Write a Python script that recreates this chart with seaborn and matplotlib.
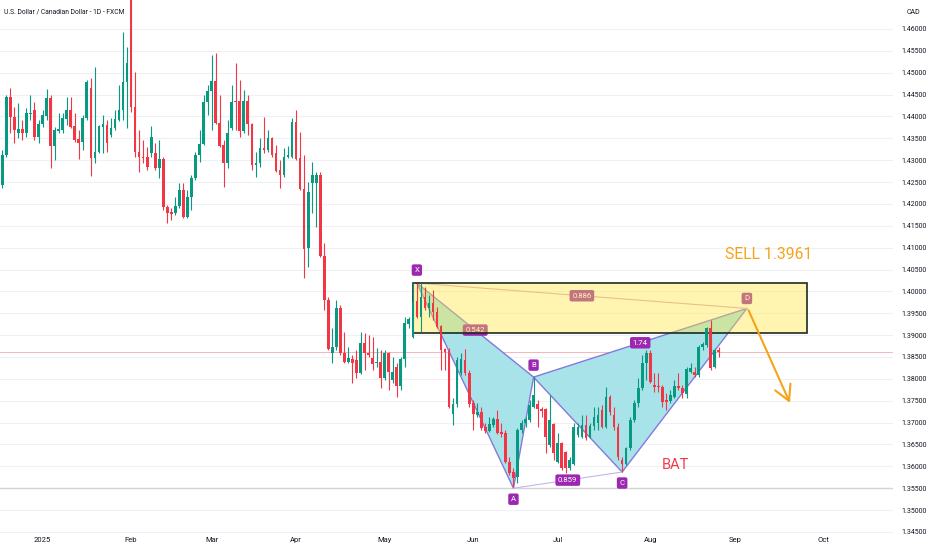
import numpy as np
import pandas as pd
import seaborn as sns
import matplotlib.pyplot as plt
from matplotlib.patches import Rectangle

# daily USD/CAD candles, 18 Dec 2024 .. 26 Aug 2025 (no bar on 1 Jan)
opens = [1.4243, 1.4312, 1.4444, 1.4399, 1.4362, 1.4371, 1.4362, 1.4405, 1.4415, 1.4353,
         1.4383, 1.4401, 1.4442, 1.4332, 1.4367, 1.4369, 1.4394, 1.4415, 1.4378, 1.4348,
         1.4341, 1.4396, 1.4465, 1.4305, 1.4319, 1.4376, 1.4380, 1.4357, 1.4373, 1.4392,
         1.4415, 1.4479, 1.4780, 1.4421, 1.4319, 1.4307, 1.4307, 1.4316, 1.4316, 1.4282,
         1.4303, 1.4193, 1.4181, 1.4179, 1.4195, 1.4232, 1.4170, 1.4216, 1.4259, 1.4312,
         1.4337, 1.4433, 1.4458, 1.4481, 1.4385, 1.4335, 1.4293, 1.4373, 1.4435, 1.4435,
         1.4367, 1.4435, 1.4383, 1.4289, 1.4293, 1.4328, 1.4323, 1.4350, 1.4316, 1.4277,
         1.4266, 1.4307, 1.4307, 1.4387, 1.4305, 1.4234, 1.4099, 1.4248, 1.4248, 1.4266,
         1.4081, 1.3980, 1.3859, 1.3873, 1.3962, 1.3859, 1.3838, 1.3845, 1.3843, 1.3813,
         1.3882, 1.3859, 1.3848, 1.3836, 1.3838, 1.3802, 1.3859, 1.3797, 1.3827, 1.3784,
         1.3845, 1.3925, 1.3896, 1.3978, 1.3941, 1.3987, 1.3962, 1.3973, 1.3953, 1.3921,
         1.3868, 1.3864, 1.3720, 1.3742, 1.3813, 1.3843, 1.3813, 1.3745, 1.3717, 1.3724,
         1.3690, 1.3681, 1.3694, 1.3708, 1.3678, 1.3676, 1.3610, 1.3587, 1.3576, 1.3683,
         1.3699, 1.3706, 1.3736, 1.3742, 1.3731, 1.3731, 1.3649, 1.3697, 1.3610, 1.3653,
         1.3633, 1.3596, 1.3605, 1.3672, 1.3667, 1.3694, 1.3667, 1.3692, 1.3699, 1.3729,
         1.3690, 1.3758, 1.3717, 1.3690, 1.3615, 1.3605, 1.3642, 1.3706, 1.3745, 1.3779,
         1.3836, 1.3859, 1.3786, 1.3784, 1.3781, 1.3752, 1.3749, 1.3758, 1.3784, 1.3779,
         1.3765, 1.3816, 1.3816, 1.3809, 1.3873, 1.3877, 1.3916, 1.3827, 1.3866]
highs = [1.4323, 1.4449, 1.4465, 1.4421, 1.4431, 1.4392, 1.4419, 1.4449, 1.4433, 1.4392,
         1.4415, 1.4463, 1.4449, 1.4376, 1.4408, 1.4408, 1.4444, 1.4444, 1.4408, 1.4369,
         1.4403, 1.4483, 1.4488, 1.4513, 1.4380, 1.4403, 1.4392, 1.4396, 1.4415, 1.4472,
         1.4593, 1.4559, 1.4793, 1.4501, 1.4369, 1.4346, 1.4330, 1.4378, 1.4339, 1.4346,
         1.4307, 1.4197, 1.4191, 1.4216, 1.4248, 1.4248, 1.4232, 1.4266, 1.4319, 1.4369,
         1.4449, 1.4472, 1.4540, 1.4545, 1.4449, 1.4346, 1.4392, 1.4472, 1.4522, 1.4483,
         1.4460, 1.4449, 1.4385, 1.4319, 1.4350, 1.4399, 1.4369, 1.4353, 1.4335, 1.4300,
         1.4328, 1.4332, 1.4396, 1.4415, 1.4364, 1.4312, 1.4250, 1.4296, 1.4273, 1.4273,
         1.4111, 1.3987, 1.3916, 1.3980, 1.3969, 1.3907, 1.3873, 1.3854, 1.3866, 1.3907,
         1.3905, 1.3900, 1.3896, 1.3870, 1.3866, 1.3866, 1.3861, 1.3850, 1.3836, 1.3850,
         1.3941, 1.3941, 1.4019, 1.4019, 1.4019, 1.4010, 1.3992, 1.4003, 1.3964, 1.3923,
         1.3870, 1.3870, 1.3756, 1.3850, 1.3859, 1.3868, 1.3820, 1.3752, 1.3745, 1.3736,
         1.3699, 1.3713, 1.3713, 1.3729, 1.3699, 1.3683, 1.3621, 1.3596, 1.3688, 1.3706,
         1.3713, 1.3752, 1.3804, 1.3752, 1.3736, 1.3733, 1.3763, 1.3699, 1.3676, 1.3656,
         1.3635, 1.3621, 1.3699, 1.3699, 1.3717, 1.3717, 1.3699, 1.3736, 1.3736, 1.3740,
         1.3781, 1.3763, 1.3736, 1.3699, 1.3621, 1.3644, 1.3713, 1.3752, 1.3802, 1.3854,
         1.3866, 1.3866, 1.3813, 1.3813, 1.3786, 1.3768, 1.3775, 1.3797, 1.3813, 1.3786,
         1.3827, 1.3836, 1.3827, 1.3877, 1.3884, 1.3918, 1.3935, 1.3870, 1.3873]
lows = [1.4236, 1.4307, 1.4362, 1.4339, 1.4350, 1.4346, 1.4353, 1.4392, 1.4346, 1.4339,
        1.4376, 1.4392, 1.4282, 1.4300, 1.4362, 1.4362, 1.4380, 1.4373, 1.4341, 1.4303,
        1.4323, 1.4392, 1.4264, 1.4293, 1.4316, 1.4316, 1.4319, 1.4353, 1.4369, 1.4389,
        1.4392, 1.4373, 1.4410, 1.4307, 1.4273, 1.4293, 1.4277, 1.4307, 1.4277, 1.4259,
        1.4186, 1.4156, 1.4163, 1.4174, 1.4191, 1.4168, 1.4168, 1.4186, 1.4255, 1.4296,
        1.4335, 1.4403, 1.4369, 1.4383, 1.4330, 1.4239, 1.4282, 1.4369, 1.4369, 1.4353,
        1.4362, 1.4357, 1.4277, 1.4261, 1.4284, 1.4316, 1.4319, 1.4307, 1.4273, 1.4236,
        1.4261, 1.4305, 1.4305, 1.4300, 1.4232, 1.4030, 1.4056, 1.4179, 1.4147, 1.4079,
        1.3957, 1.3866, 1.3836, 1.3866, 1.3854, 1.3836, 1.3836, 1.3790, 1.3802, 1.3811,
        1.3820, 1.3850, 1.3820, 1.3827, 1.3779, 1.3797, 1.3775, 1.3790, 1.3758, 1.3775,
        1.3827, 1.3916, 1.3893, 1.3939, 1.3907, 1.3957, 1.3941, 1.3935, 1.3916, 1.3820,
        1.3820, 1.3733, 1.3694, 1.3736, 1.3809, 1.3809, 1.3736, 1.3683, 1.3713, 1.3683,
        1.3676, 1.3678, 1.3690, 1.3674, 1.3667, 1.3608, 1.3580, 1.3553, 1.3562, 1.3676,
        1.3690, 1.3701, 1.3733, 1.3690, 1.3713, 1.3630, 1.3644, 1.3615, 1.3608, 1.3592,
        1.3585, 1.3592, 1.3603, 1.3667, 1.3665, 1.3660, 1.3665, 1.3683, 1.3683, 1.3688,
        1.3688, 1.3717, 1.3683, 1.3615, 1.3587, 1.3603, 1.3637, 1.3701, 1.3736, 1.3775,
        1.3797, 1.3790, 1.3770, 1.3770, 1.3736, 1.3729, 1.3745, 1.3756, 1.3775, 1.3756,
        1.3756, 1.3813, 1.3804, 1.3804, 1.3866, 1.3873, 1.3820, 1.3825, 1.3850]
closes = [1.4312, 1.4444, 1.4399, 1.4369, 1.4371, 1.4362, 1.4408, 1.4408, 1.4353, 1.4383,
          1.4403, 1.4442, 1.4332, 1.4369, 1.4371, 1.4396, 1.4415, 1.4376, 1.4346, 1.4339,
          1.4396, 1.4479, 1.4305, 1.4319, 1.4378, 1.4383, 1.4339, 1.4373, 1.4394, 1.4415,
          1.4479, 1.4522, 1.4421, 1.4319, 1.4307, 1.4305, 1.4284, 1.4353, 1.4282, 1.4303,
          1.4193, 1.4179, 1.4177, 1.4195, 1.4232, 1.4170, 1.4216, 1.4259, 1.4312, 1.4337,
          1.4433, 1.4458, 1.4481, 1.4385, 1.4332, 1.4293, 1.4362, 1.4433, 1.4433, 1.4367,
          1.4435, 1.4383, 1.4289, 1.4293, 1.4328, 1.4323, 1.4350, 1.4312, 1.4275, 1.4266,
          1.4307, 1.4312, 1.4387, 1.4303, 1.4234, 1.4097, 1.4227, 1.4266, 1.4266, 1.4081,
          1.3980, 1.3868, 1.3873, 1.3962, 1.3859, 1.3838, 1.3848, 1.3836, 1.3813, 1.3882,
          1.3859, 1.3854, 1.3834, 1.3838, 1.3802, 1.3859, 1.3816, 1.3816, 1.3784, 1.3845,
          1.3928, 1.3937, 1.3976, 1.3941, 1.3987, 1.3962, 1.3973, 1.3953, 1.3918, 1.3866,
          1.3861, 1.3736, 1.3742, 1.3843, 1.3845, 1.3813, 1.3742, 1.3720, 1.3724, 1.3688,
          1.3681, 1.3697, 1.3708, 1.3676, 1.3674, 1.3610, 1.3585, 1.3573, 1.3683, 1.3699,
          1.3708, 1.3740, 1.3763, 1.3731, 1.3726, 1.3667, 1.3706, 1.3630, 1.3653, 1.3596,
          1.3596, 1.3615, 1.3690, 1.3690, 1.3694, 1.3665, 1.3692, 1.3713, 1.3717, 1.3690,
          1.3758, 1.3724, 1.3690, 1.3621, 1.3605, 1.3642, 1.3706, 1.3745, 1.3779, 1.3836,
          1.3859, 1.3793, 1.3781, 1.3781, 1.3747, 1.3747, 1.3763, 1.3784, 1.3779, 1.3768,
          1.3822, 1.3825, 1.3809, 1.3873, 1.3880, 1.3916, 1.3825, 1.3866, 1.3861]

month_labels = ['2025', 'Feb', 'Mar', 'Apr', 'May', 'Jun', 'Jul', 'Aug', 'Sep', 'Oct']

# harmonic BAT pattern (bar index, price) and ratio labels
pattern_names = ['X', 'A', 'B', 'C', 'D']
pattern_bar = [103, 127, 132, 154, 185]
pattern_price = [1.4019, 1.3550, 1.3804, 1.3587, 1.3961]
ratio_xb, ratio_ac, ratio_bd, ratio_xd = '0.542', '0.859', '1.74', '0.886'
zone_top, zone_bottom = 1.4019, 1.3906
zone_bars = (102, 200)
support_level = 1.3550
sell_text = 'SELL 1.3961'

GREEN = '#089981'
RED = '#f23645'
ORANGE = '#f5a31a'
PURPLE = '#9c27b0'

sns.set_theme(style='white')
plt.rcParams['font.family'] = ['Roboto', 'DejaVu Sans']

df = pd.DataFrame({'open': opens, 'high': highs, 'low': lows, 'close': closes})
dates = pd.bdate_range('2024-12-18', '2025-10-31')
dates = dates[dates != pd.Timestamp('2025-01-01')]
df['date'] = dates[:len(df)]
df['i'] = np.arange(len(df))
up = df['close'] >= df['open']
df['color'] = np.where(up, GREEN, RED)

fig = plt.figure(figsize=(9.32, 5.5), dpi=100)
ax = fig.add_axes([0, 17 / 550, 893 / 932, 533 / 550])

# candles
ax.vlines(df['i'], df['low'], df['high'], colors=df['color'], lw=0.8, zorder=4)
ax.bar(df['i'], (df['close'] - df['open']).where(lambda s: s.abs() > 0.00005, 0.00008),
       bottom=df['open'], width=0.66, color=df['color'], lw=0, zorder=4)

# pattern triangles
px = dict(zip(pattern_names, zip(pattern_bar, pattern_price)))
for tri in (('X', 'A', 'B'), ('B', 'C', 'D')):
    ax.fill([px[k][0] for k in tri], [px[k][1] for k in tri], color='#a9e3ea', lw=0, zorder=1)
    xs = [px[k][0] for k in tri + (tri[0],)]
    ys = [px[k][1] for k in tri + (tri[0],)]
    ax.plot(xs, ys, color='#8479dc', lw=1.0, zorder=1.5)
sns.lineplot(x=[px['X'][0], px['D'][0]], y=[px['X'][1], px['D'][1]], ax=ax,
             color='#dca4c4', lw=0.8, zorder=1.5)
sns.lineplot(x=[px['A'][0], px['C'][0]], y=[px['A'][1], px['C'][1]], ax=ax,
             color='#c7b5ea', lw=0.8, zorder=1.5)

def tag(x, y, text, dy):
    ax.annotate(text, (x, y), xytext=(0, dy), textcoords='offset pixels',
                ha='center', va='center', fontsize=5.6, color='white', zorder=2,
                bbox=dict(boxstyle='round,pad=0.35,rounding_size=0.25', fc=PURPLE, ec='none'))

offsets = {'X': 13, 'A': -11, 'B': 12, 'C': -11, 'D': 10}
for k in pattern_names:
    tag(px[k][0], px[k][1], k, offsets[k])

def mid(a, b):
    return (px[a][0] + px[b][0]) / 2, (px[a][1] + px[b][1]) / 2

for (a, b), r in zip([('X', 'B'), ('A', 'C'), ('B', 'D'), ('X', 'D')],
                     [ratio_xb, ratio_ac, ratio_bd, ratio_xd]):
    tag(*mid(a, b), r, 0)

# sell zone
ax.add_patch(Rectangle((zone_bars[0], zone_bottom), zone_bars[1] - zone_bars[0],
                       zone_top - zone_bottom, fc='#ffe83b', alpha=0.4, lw=0, zorder=3))
ax.add_patch(Rectangle((zone_bars[0], zone_bottom), zone_bars[1] - zone_bars[0],
                       zone_top - zone_bottom, fill=False, ec='#1d2b22', lw=1.2, zorder=3.1))

# lines
ax.axhline(support_level, color='#d4d4d4', lw=1.0, zorder=0.8)
ax.axhline(closes[-1], color='#f5b4ba', lw=0.7, zorder=0.8)

# arrow and texts
ax.annotate('', xy=(195.7, 1.3745), xytext=(185.4, 1.3957),
            arrowprops=dict(arrowstyle='->,head_length=0.55,head_width=0.3', color=ORANGE,
                            lw=1.5, mutation_scale=20, shrinkA=0, shrinkB=0), zorder=5)
ax.text(190.5, 1.4085, sell_text, color=ORANGE, fontsize=11.3, ha='center', va='center', zorder=5)
ax.text(167.3, 1.3603, 'BAT', color='#ef3d4b', fontsize=10.5, ha='center', va='center', zorder=5)

# axes
ax.set_xlim(-0.57, 221.3)
ax.set_ylim(1.34476, 1.46662)
yt = np.round(np.arange(1.345, 1.4601, 0.005), 3)
ax.set_yticks(yt)
ax.set_yticklabels([f'{v:.5f}' for v in yt])
ax.yaxis.tick_right()
ax.tick_params(axis='y', length=0, pad=6, labelsize=5.0, labelcolor='#131722')
ax.grid(axis='y', color='#eef0f5', lw=0.8)
ax.set_axisbelow(True)

all_dates = pd.Series(dates)
first_of_month = all_dates.groupby(all_dates.dt.to_period('M')).first()
tick_pos = [int(np.where(dates == d)[0][0]) for d in first_of_month.iloc[1:]]
ax.set_xticks(tick_pos[:len(month_labels)])
ax.set_xticklabels(month_labels)
ax.tick_params(axis='x', length=0, pad=3, labelsize=5.5, labelcolor='#131722')
for s in ax.spines.values():
    s.set_visible(False)

fig.text(4 / 932, 1 - 12 / 550, 'U.S. Dollar / Canadian Dollar - 1D - FXCM',
         fontsize=4.9, color='#131722', va='center', ha='left')
fig.text(913 / 932, 1 - 12 / 550, 'CAD', fontsize=5, color='#131722', va='center', ha='center')

fig.savefig('out.png', dpi=100)
